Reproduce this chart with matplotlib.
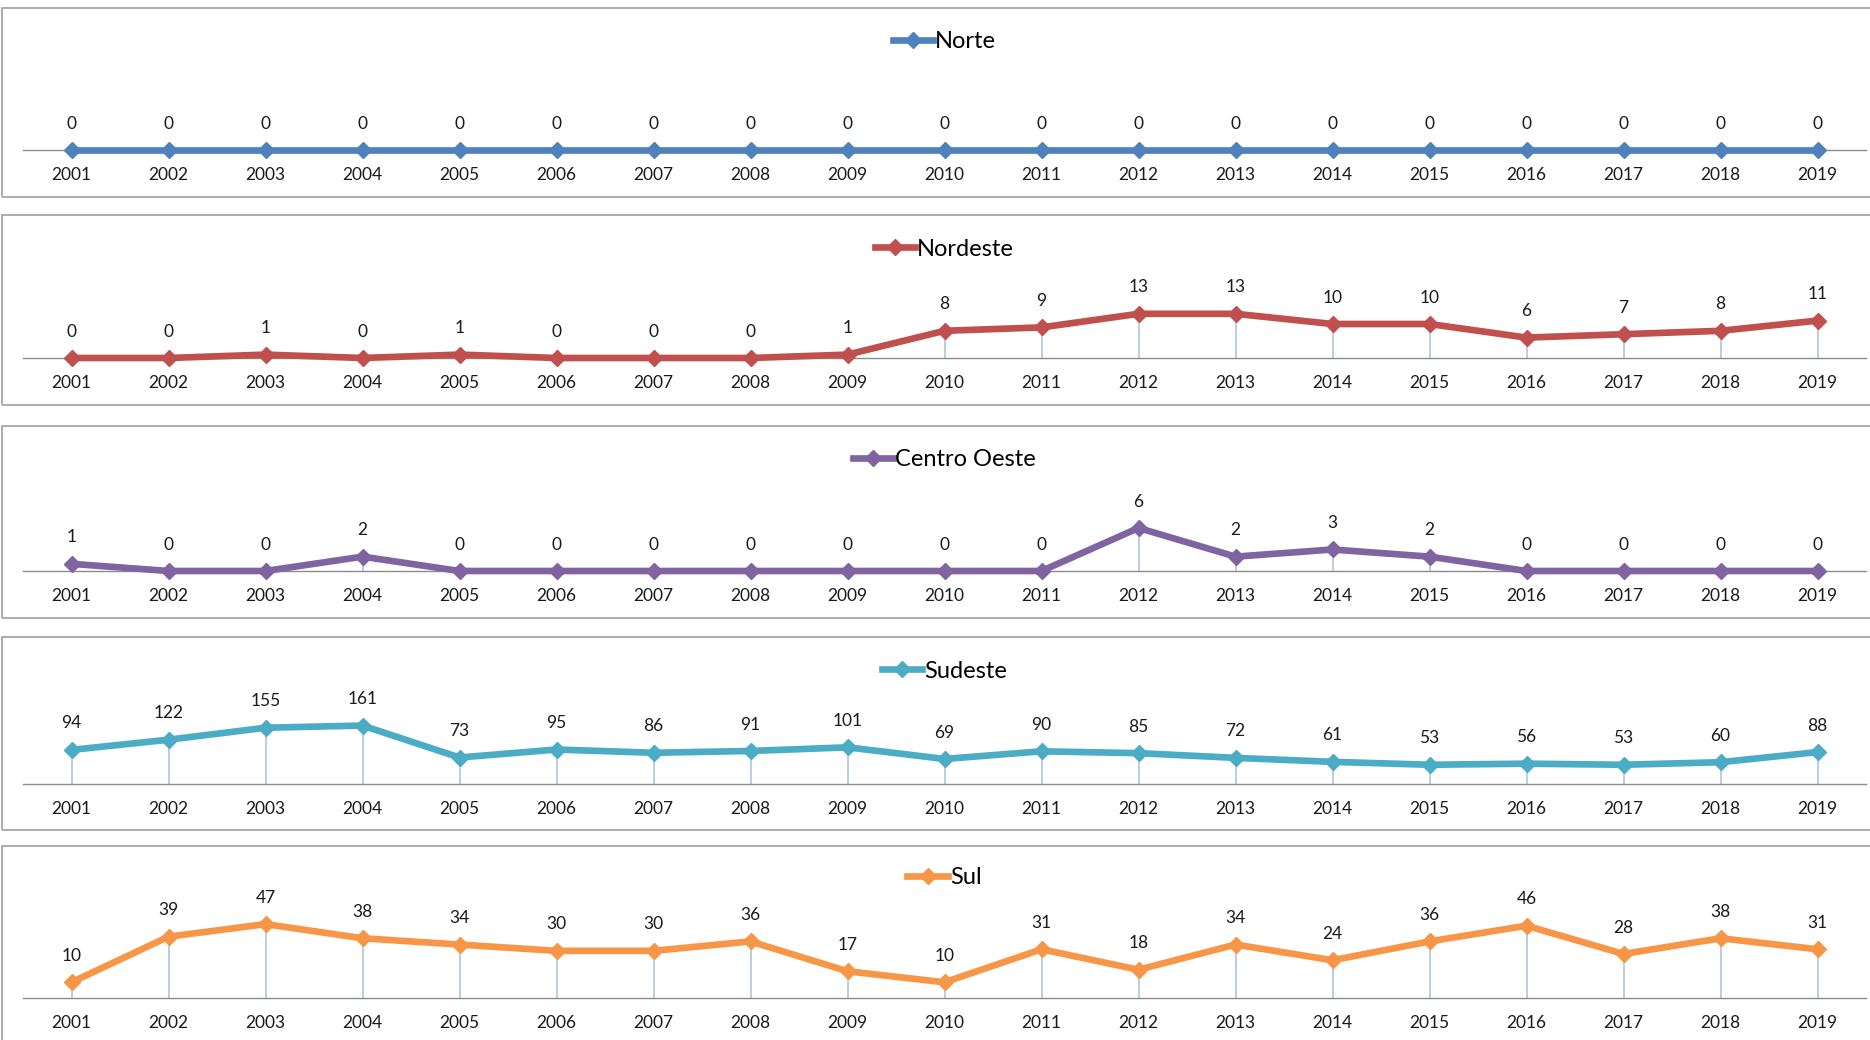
import matplotlib
matplotlib.use("Agg")
import matplotlib.pyplot as plt
from matplotlib.lines import Line2D
from matplotlib.patches import Rectangle

plt.rcParams['font.family'] = ['Lato', 'DejaVu Sans']

anos = [str(a) for a in range(2001, 2020)]

norte = [0, 0, 0, 0, 0, 0, 0, 0, 0, 0, 0, 0, 0, 0, 0, 0, 0, 0, 0]
nordeste = [0, 0, 1, 0, 1, 0, 0, 0, 1, 8, 9, 13, 13, 10, 10, 6, 7, 8, 11]
centro_oeste = [1, 0, 0, 2, 0, 0, 0, 0, 0, 0, 0, 6, 2, 3, 2, 0, 0, 0, 0]
sudeste = [94, 122, 155, 161, 73, 95, 86, 91, 101, 69, 90, 85, 72, 61, 53, 56, 53, 60, 88]
sul = [10, 39, 47, 38, 34, 30, 30, 36, 17, 10, 31, 18, 34, 24, 36, 46, 28, 38, 31]

regioes = ['Norte', 'Nordeste', 'Centro Oeste', 'Sudeste', 'Sul']
series = [norte, nordeste, centro_oeste, sudeste, sul]
cores = ['#4f81bd', '#c0504d', '#8064a2', '#4bacc6', '#f79646']

# layout in pixels (figure is 1870 x 1040)
W, H = 1870, 1040
caixas = [(8, 197), (215, 405), (426, 618), (637, 830), (846, 1045)]
bases = [150, 358, 571, 784, 998]
legendas = [42, 249, 460, 671, 878]
px_por_unidade = [3.4, 3.4, 7.17, 0.363, 1.572]
ax_h = 110
x0, x1 = 23, 1866

fig = plt.figure(figsize=(W / 100, H / 100), dpi=100)

for i in range(5):
    top, bot = caixas[i]
    fig.add_artist(Rectangle((2 / W, 1 - bot / H), (W + 10) / W, (bot - top) / H,
                             transform=fig.transFigure, fill=False,
                             edgecolor='#a6a6a6', linewidth=1.3))

    ax = fig.add_axes([x0 / W, 1 - bases[i] / H, (x1 - x0) / W, ax_h / H])
    ax.set_facecolor('none')
    y = series[i]
    xs = range(len(anos))
    ax.vlines(xs, 0, y, color='#b9cde5', linewidth=1.4, zorder=1)
    ax.plot(xs, y, color=cores[i], linewidth=4.8, marker='D', markersize=8.5,
            solid_joinstyle='miter', zorder=3, clip_on=False)
    for xi, v in zip(xs, y):
        ax.annotate(str(v), (xi, v), xytext=(0, 19), textcoords='offset points',
                    ha='center', va='center', fontsize=12.5, color='#1a1a1a')

    ax.set_xlim(-0.5, len(anos) - 0.5)
    ax.set_ylim(0, ax_h / px_por_unidade[i])
    ax.set_xticks(list(xs))
    ax.set_xticklabels(anos, fontsize=12.5, color='#1a1a1a')
    ax.tick_params(axis='x', length=0, pad=12.5)
    ax.set_yticks([])
    for s in ['top', 'left', 'right']:
        ax.spines[s].set_visible(False)
    ax.spines['bottom'].set_color('#8c8c8c')
    ax.spines['bottom'].set_linewidth(1.0)

    h = Line2D([], [], color=cores[i], linewidth=4.8, marker='D', markersize=8.5)
    fig.legend([h], [regioes[i]], loc='center',
               bbox_to_anchor=((x0 + x1) / 2 / W, 1 - legendas[i] / H),
               frameon=False, fontsize=17, handlelength=1.7, handletextpad=0.1,
               borderpad=0, borderaxespad=0)

fig.savefig('out.png', dpi=100, facecolor='white')
